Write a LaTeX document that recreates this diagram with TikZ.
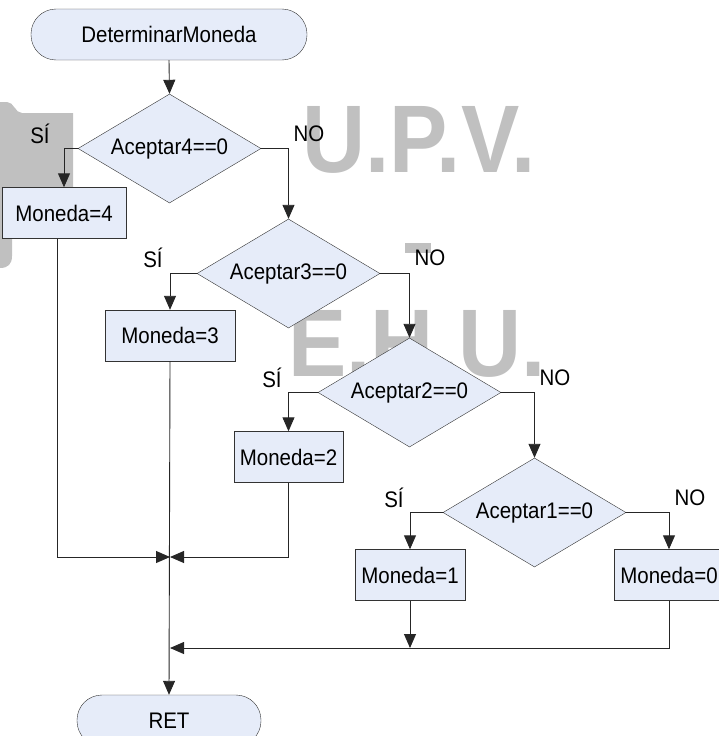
\documentclass[tikz,border=0pt]{standalone}
\usepackage{fontspec}
\setmainfont{Liberation Sans}[FakeStretch=0.91]
\newfontfamily\wmfont{Liberation Sans}[FakeStretch=0.91]
\usetikzlibrary{shapes.geometric,arrows.meta}
\definecolor{boxfill}{RGB}{230,236,249}
\definecolor{wmgray}{RGB}{192,192,192}
\begin{document}
\begin{tikzpicture}[x=1pt,y=-1pt,
  every node/.style={font=\fontsize{22.5}{27}\selectfont},
  term/.style={draw=black!80, fill=boxfill, rounded corners=25pt,
    minimum height=51pt, inner sep=0pt},
  decision/.style={diamond, draw=black!80, fill=boxfill, aspect=1.68,
    minimum width=183pt, minimum height=109pt, inner sep=0pt},
  proc/.style={draw=black!80, fill=boxfill, minimum height=51pt, inner sep=0pt},
  lbl/.style={inner sep=0pt},
  wm/.style={font=\wmfont\bfseries\fontsize{96}{100}\selectfont,
    text=wmgray, anchor=base, inner sep=0pt},
  lin/.style={draw=black!85, line width=0.9pt},
  arr/.style={lin, -{Triangle[length=14pt,width=12pt]}}]

\useasboundingbox (0,0) rectangle (718,736);

% background watermark
\fill[wmgray] (0,102) -- (7,102) .. controls (14,102) and (15,113) .. (22,113)
  -- (73,113) -- (73,200) -- (12,200) -- (12,256)
  .. controls (12,264) and (8,268) .. (0,268) -- cycle;
\node[wm] (wmA) at (419,172) {U.P.V.};
\node[wm] (wmB) at (417,376) {E.H.U.};
\fill[wmgray] (405,243) rectangle (431,253);

% flow elements
\node[term, minimum width=276pt] (start) at (169,34.5) {DeterminarMoneda};
\node[decision] (d4) at (169.5,148.5) {Aceptar4==0};
\node[proc, minimum width=124pt] (m4) at (64,213) {Moneda=4};
\node[decision] (d3) at (288.5,273.5) {Aceptar3==0};
\node[proc, minimum width=130pt] (m3) at (170,335.5) {Moneda=3};
\node[decision] (d2) at (409.5,392.5) {Aceptar2==0};
\node[proc, minimum width=109pt] (m2) at (288.5,457) {Moneda=2};
\node[decision] (d1) at (534.5,512.5) {Aceptar1==0};
\node[proc, minimum width=110pt] (m1) at (410,575) {Moneda=1};
\node[proc, minimum width=110pt] (m0) at (669,575) {Moneda=0};
\node[term, minimum width=184pt] (ret) at (169,720.5) {RET};

% branch labels
\node[lbl] (s4) at (40,134) {SÍ};
\node[lbl] (n4) at (309,134) {NO};
\node[lbl] (s3) at (153,258) {SÍ};
\node[lbl] (n3) at (430,258) {NO};
\node[lbl] (s2) at (272,378) {SÍ};
\node[lbl] (n2) at (555,378) {NO};
\node[lbl] (s1) at (394,498) {SÍ};
\node[lbl] (n1) at (690,498) {NO};

% junction points
\coordinate (j1) at (170,557);
\coordinate (j2) at (170,648);

% connectors
\draw[arr] (start.south) -- (d4.north);
\draw[arr] (d4.west) -| (m4.north);
\draw[arr] (d4.east) -| (d3.north);
\draw[arr] (d3.west) -| (m3.north);
\draw[arr] (d3.east) -| (d2.north);
\draw[arr] (d2.west) -| (m2.north);
\draw[arr] (d2.east) -| (d1.north);
\draw[arr] (d1.west) -| (m1.north);
\draw[arr] (d1.east) -| (m0.north);

\draw[arr] ([xshift=-7pt]m4.south) |- (j1);
\draw[arr] (m2.south) |- (j1);
\draw[arr] (m1.south) -- (m1.south |- j2);
\draw[arr] (m0.south) |- (j2);
\draw[arr] (m3.south) -- (ret.north);
\end{tikzpicture}
\end{document}
